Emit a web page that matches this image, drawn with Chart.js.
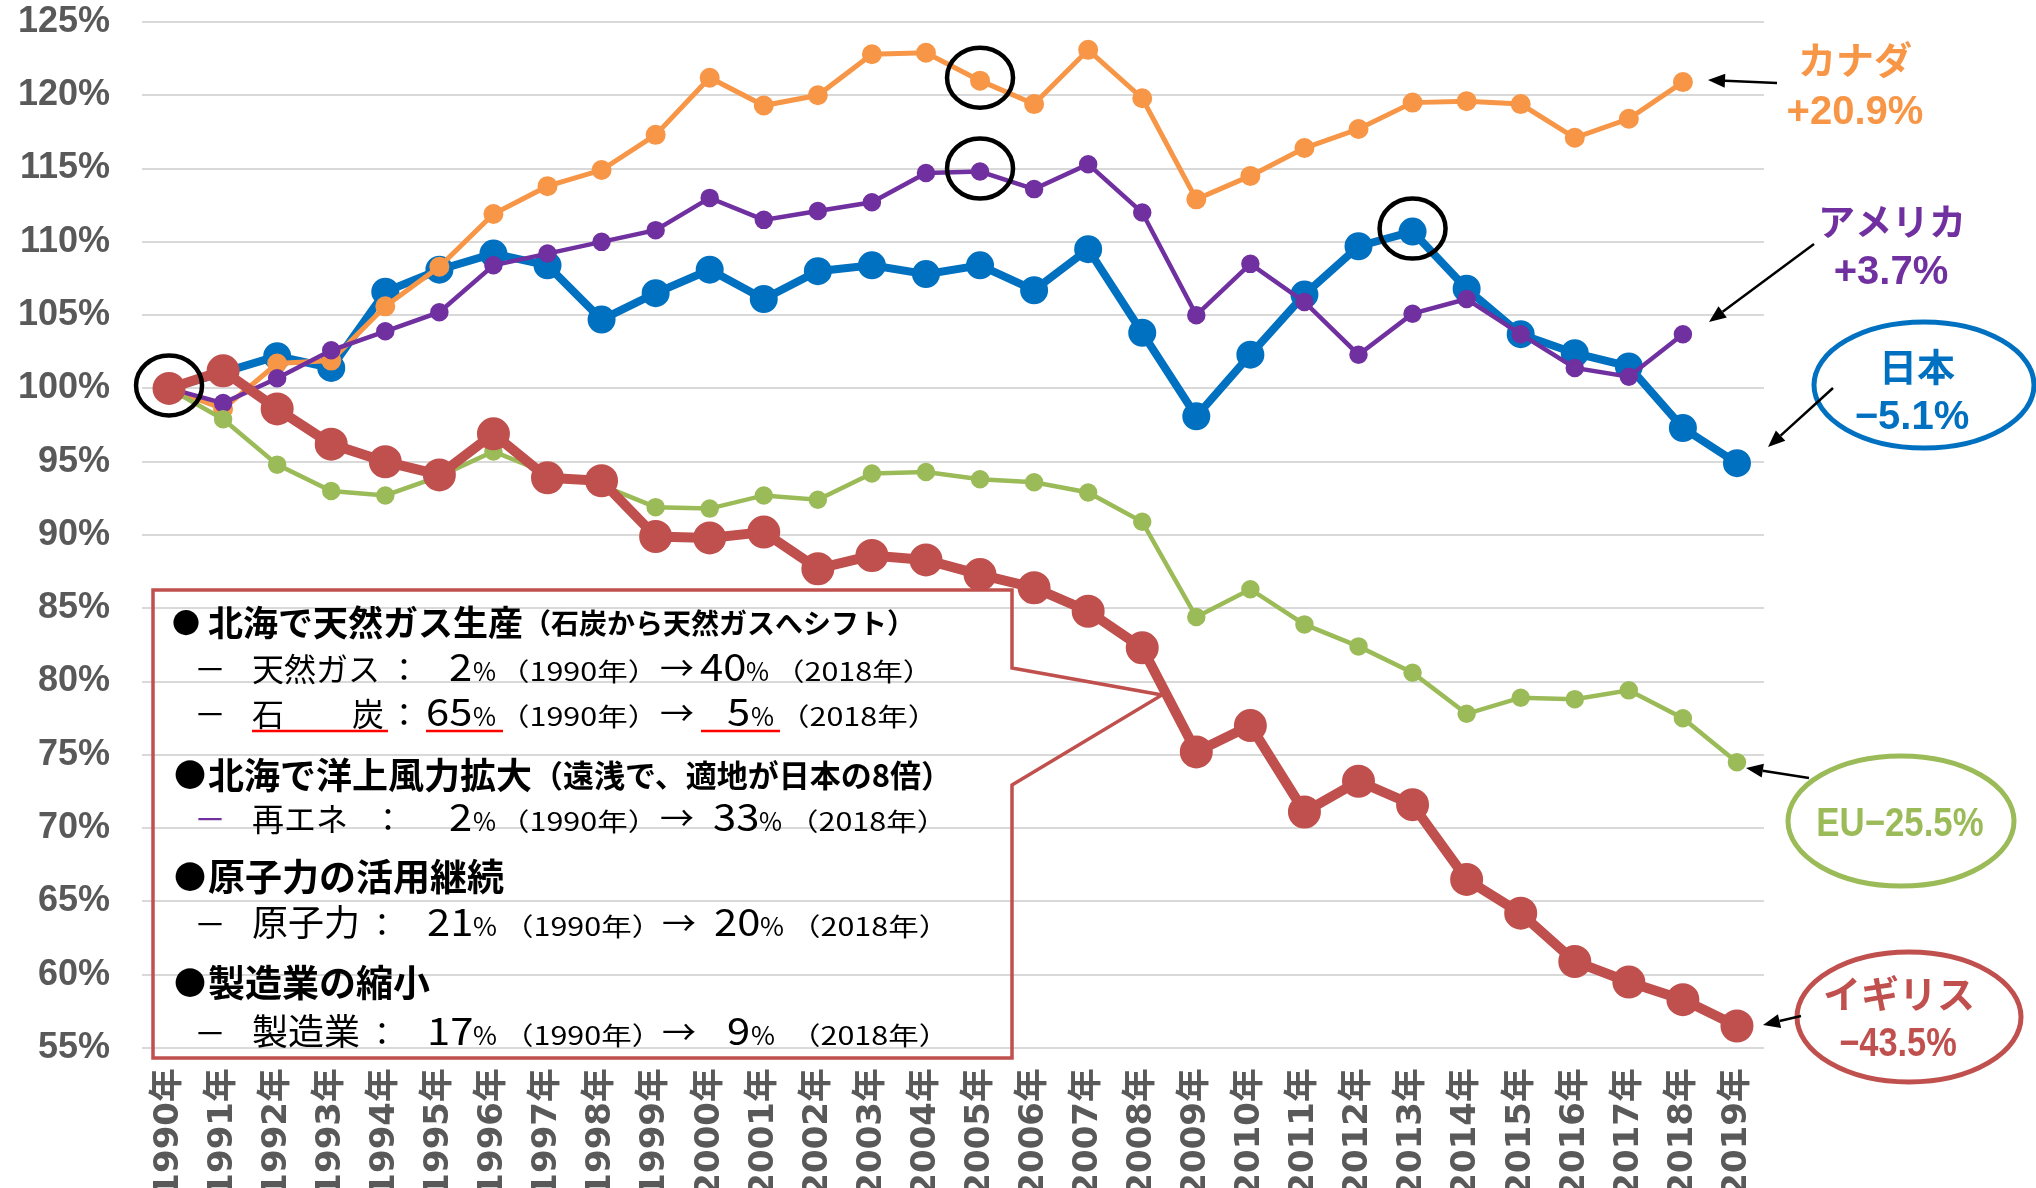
<!DOCTYPE html>
<html>
<head>
<meta charset="utf-8">
<script src="https://cdn.jsdelivr.net/npm/chart.js@4.4.1/dist/chart.umd.min.js"></script>
<style>
  html, body { margin: 0; padding: 0; background: #fff; }
  canvas { display: block; }
</style>
</head>
<body>
<canvas id="co2-Chart" width="2036" height="1188"></canvas>
<script>
// 1990年比の排出量推移 (%)
const years = ['1990年','1991年','1992年','1993年','1994年','1995年','1996年','1997年','1998年','1999年',
               '2000年','2001年','2002年','2003年','2004年','2005年','2006年','2007年','2008年','2009年',
               '2010年','2011年','2012年','2013年','2014年','2015年','2016年','2017年','2018年','2019年'];

const japan  = [100, 101.1, 102.2, 101.4, 106.6, 108.1, 109.2, 108.4, 104.7, 106.5,
                108.1, 106.1, 108.0, 108.4, 107.8, 108.4, 106.7, 109.5, 103.8, 98.1,
                102.3, 106.4, 109.7, 110.7, 106.8, 103.7, 102.4, 101.5, 97.3, 94.9];
const canada = [100, 98.6, 101.7, 101.9, 105.6, 108.3, 111.9, 113.8, 114.9, 117.3,
                121.2, 119.3, 120.0, 122.8, 122.9, 121.0, 119.4, 123.1, 119.8, 112.9,
                114.5, 116.4, 117.7, 119.5, 119.6, 119.4, 117.1, 118.4, 120.9, null];
const usa    = [100, 99.0, 100.7, 102.6, 103.9, 105.2, 108.4, 109.2, 110.0, 110.8,
                113.0, 111.5, 112.1, 112.7, 114.7, 114.8, 113.6, 115.3, 112.0, 105.0,
                108.5, 105.9, 102.3, 105.1, 106.1, 103.7, 101.4, 100.8, 103.7, null];
const eu     = [100, 97.9, 94.8, 93.0, 92.7, 94.0, 95.7, 94.2, 93.4, 91.9,
                91.8, 92.7, 92.4, 94.2, 94.3, 93.8, 93.6, 92.9, 90.9, 84.4,
                86.3, 83.9, 82.4, 80.6, 77.8, 78.9, 78.8, 79.4, 77.5, 74.5];
const uk     = [100, 101.2, 98.6, 96.2, 95.0, 94.1, 96.9, 93.9, 93.7, 89.9,
                89.8, 90.2, 87.7, 88.6, 88.3, 87.3, 86.4, 84.8, 82.3, 75.2,
                77.0, 71.1, 73.2, 71.6, 66.5, 64.2, 60.9, 59.5, 58.3, 56.5];

const yTicks = [55, 60, 65, 70, 75, 80, 85, 90, 95, 100, 105, 110, 115, 120, 125];
const yTickLabels = ['55%','60%','65%','70%','75%','80%','85%','90%','95%','100%','105%','110%','115%','120%','125%'];

const JP = '"Noto Sans CJK JP", sans-serif';
const NUM = '"Liberation Sans", Arial, sans-serif';

// points circled in black: [dataset index, year index]
const circled = [[0, 0], [3, 15], [2, 15], [4, 23]];

// text inside the red callout box: [text, x, size, weight, sx, color]
const noteLines = [
  { y: 623, base: 'middle', segs: [
    ['●', 172, 28, 700], ['北海で天然ガス生産', 208, 35, 700], ['（石炭から天然ガスへシフト）', 523, 28, 700]] },
  { y: 681, segs: [
    ['－', 194, 32, 400], ['天然ガス', 252, 32, 400], ['：', 388, 32, 400], ['2', 449, 38, 400, 1.1],
    ['%', 473, 25, 400], ['（1990年）', 499, 25, 400, 1.22], ['→', 660, 34, 400], ['40', 700, 38, 400, 1.1],
    ['%', 746, 25, 400], ['（2018年）', 774, 25, 400, 1.22]] },
  { y: 726, segs: [
    ['－', 194, 32, 400], ['石', 252, 32, 400], ['炭', 352, 32, 400], ['：', 388, 32, 400], ['65', 426, 38, 400, 1.1],
    ['%', 473, 25, 400], ['（1990年）', 499, 25, 400, 1.22], ['→', 660, 34, 400], ['5', 727, 38, 400, 1.1],
    ['%', 751, 25, 400], ['（2018年）', 779, 25, 400, 1.22]] },
  { y: 775, base: 'middle', segs: [
    ['●', 174, 32, 700], ['北海で洋上風力拡大', 208, 36, 700], ['（遠浅で、適地が日本の8倍）', 532, 31, 700]] },
  { y: 831, segs: [
    ['－', 194, 32, 400, 1, '#7030A0'], ['再エネ', 252, 32, 400], ['：', 372, 32, 400], ['2', 449, 38, 400, 1.1],
    ['%', 473, 25, 400], ['（1990年）', 499, 25, 400, 1.22], ['→', 660, 34, 400], ['33', 713, 38, 400, 1.1],
    ['%', 759, 25, 400], ['（2018年）', 788, 25, 400, 1.22]] },
  { y: 877, base: 'middle', segs: [
    ['●', 174, 32, 700], ['原子力の活用継続', 208, 37, 700]] },
  { y: 936, segs: [
    ['－', 194, 32, 400], ['原子力', 252, 36, 400], ['：', 366, 32, 400], ['21', 427, 38, 400, 1.1],
    ['%', 473, 26, 400], ['（1990年）', 503, 25, 400, 1.22], ['→', 662, 34, 400], ['20', 714, 38, 400, 1.1],
    ['%', 760, 26, 400], ['（2018年）', 790, 25, 400, 1.22]] },
  { y: 983, base: 'middle', segs: [
    ['●', 174, 32, 700], ['製造業の縮小', 208, 37, 700]] },
  { y: 1045, segs: [
    ['－', 194, 32, 400], ['製造業', 252, 36, 400], ['：', 366, 32, 400], ['17', 427, 38, 400, 1.1],
    ['%', 473, 26, 400], ['（1990年）', 503, 25, 400, 1.22], ['→', 662, 34, 400], ['9', 727, 38, 400, 1.1],
    ['%', 751, 26, 400], ['（2018年）', 790, 25, 400, 1.22]] }
];
const noteUnderlines = [[252, 388, 731], [426, 503, 731], [701, 780, 731]];

// labels at the right: [text, cx, cy, size, family, color, sx]
const sideLabels = [
  ['カナダ', 1855, 60, 38, JP, '#F79646'], ['+20.9%', 1855, 113, 40, NUM, '#F79646'],
  ['アメリカ', 1892, 222, 37, JP, '#7030A0'], ['+3.7%', 1891, 273, 40, NUM, '#7030A0'],
  ['日本', 1917, 367, 38, JP, '#0070C0'], ['−5.1%', 1912, 418, 40, NUM, '#0070C0'],
  ['EU−25.5%', 1900, 825, 40, NUM, '#9BBB59', 0.87],
  ['イギリス', 1899, 994, 38, JP, '#C0504D'], ['−43.5%', 1898, 1045, 40, NUM, '#C0504D', 0.86]
];
const sideRings = [[1924, 385, 110, 63, '#0070C0'], [1901, 821, 113, 65, '#9BBB59'], [1909, 1017, 112, 65, '#C0504D']];
const sideArrows = [[1777, 83, 1708, 80], [1814, 244, 1709, 322], [1833, 388, 1768, 447],
                    [1809, 778, 1746, 768], [1801, 1016, 1763, 1025]];

function put(ctx, txt, x, y, size, weight, family, color, sx, align, base) {
  ctx.save();
  ctx.font = weight + ' ' + size + 'px ' + family;
  ctx.fillStyle = color;
  ctx.textAlign = align || 'left';
  ctx.textBaseline = base || 'alphabetic';
  ctx.translate(x, y);
  ctx.scale(sx || 1, 1);
  ctx.fillText(txt, 0, 0);
  ctx.restore();
}

function arrow(ctx, x0, y0, x1, y1) {
  const a = Math.atan2(y1 - y0, x1 - x0);
  const len = 17, half = 7;
  const bx = x1 - len * Math.cos(a), by = y1 - len * Math.sin(a);
  ctx.beginPath();
  ctx.moveTo(x0, y0);
  ctx.lineTo(bx, by);
  ctx.stroke();
  ctx.beginPath();
  ctx.moveTo(x1, y1);
  ctx.lineTo(bx + half * Math.sin(a), by - half * Math.cos(a));
  ctx.lineTo(bx - half * Math.sin(a), by + half * Math.cos(a));
  ctx.closePath();
  ctx.fill();
}

// red callout frame, under the lines
const noteBox = {
  id: 'noteBox',
  beforeDatasetsDraw(chart) {
    const ctx = chart.ctx;
    ctx.save();
    ctx.strokeStyle = '#C0504D';
    ctx.lineWidth = 3.5;
    ctx.beginPath();
    ctx.moveTo(153, 590);
    ctx.lineTo(1012, 590);
    ctx.lineTo(1012, 668);
    ctx.lineTo(1162, 695);
    ctx.lineTo(1012, 785);
    ctx.lineTo(1012, 1058);
    ctx.lineTo(153, 1058);
    ctx.closePath();
    ctx.stroke();
    ctx.restore();
  }
};

const annotations = {
  id: 'annotations',
  afterDraw(chart) {
    const ctx = chart.ctx;
    ctx.save();

    // box text
    noteLines.forEach(line => {
      line.segs.forEach(s => {
        put(ctx, s[0], s[1], line.y, s[2], s[3], JP, s[5] || '#000', s[4], 'left', line.base);
      });
    });
    ctx.strokeStyle = '#FF0000';
    ctx.lineWidth = 2.5;
    noteUnderlines.forEach(u => {
      ctx.beginPath();
      ctx.moveTo(u[0], u[2]);
      ctx.lineTo(u[1], u[2]);
      ctx.stroke();
    });

    // black rings around key points
    ctx.strokeStyle = '#000';
    ctx.lineWidth = 4.5;
    circled.forEach(c => {
      const pt = chart.getDatasetMeta(c[0]).data[c[1]];
      ctx.beginPath();
      ctx.ellipse(pt.x, pt.y - 3, 33, 30, 0, 0, Math.PI * 2);
      ctx.stroke();
    });

    // side rings, arrows, labels
    ctx.lineWidth = 5;
    sideRings.forEach(r => {
      ctx.strokeStyle = r[4];
      ctx.beginPath();
      ctx.ellipse(r[0], r[1], r[2], r[3], 0, 0, Math.PI * 2);
      ctx.stroke();
    });
    ctx.strokeStyle = '#000';
    ctx.fillStyle = '#000';
    ctx.lineWidth = 2.5;
    sideArrows.forEach(a => arrow(ctx, a[0], a[1], a[2], a[3]));
    sideLabels.forEach(l => {
      put(ctx, l[0], l[1], l[2], l[3], 700, l[4], l[5], l[6], 'center', 'middle');
    });
    ctx.restore();
  }
};

const ctx = document.getElementById('co2-Chart').getContext('2d');
const myChart = new Chart(ctx, {
  type: 'line',
  data: {
    labels: years,
    datasets: [
      { label: 'イギリス', data: uk, borderColor: '#C0504D', backgroundColor: '#C0504D',
        borderWidth: 10, pointRadius: 11.5, order: 0 },
      { label: 'EU', data: eu, borderColor: '#9BBB59', backgroundColor: '#9BBB59',
        borderWidth: 4.5, pointRadius: 7, order: 1 },
      { label: 'アメリカ', data: usa, borderColor: '#7030A0', backgroundColor: '#7030A0',
        borderWidth: 4.5, pointRadius: 7, order: 2 },
      { label: 'カナダ', data: canada, borderColor: '#F79646', backgroundColor: '#F79646',
        borderWidth: 5, pointRadius: 7.5, order: 3 },
      { label: '日本', data: japan, borderColor: '#0070C0', backgroundColor: '#0070C0',
        borderWidth: 8, pointRadius: 10, order: 4 }
    ]
  },
  options: {
    responsive: false,
    animation: false,
    devicePixelRatio: 1,
    layout: { padding: { top: 22, right: 272, left: 0, bottom: 0 } },
    elements: {
      line: { tension: 0 },
      point: { borderWidth: 0, hoverRadius: 11 }
    },
    plugins: {
      legend: { display: false },
      tooltip: { enabled: false }
    },
    scales: {
      x: {
        offset: true,
        grid: { display: false, drawTicks: false },
        border: { display: false },
        ticks: {
          autoSkip: false, maxRotation: 90, minRotation: 90, padding: 20,
          color: '#595959',
          font: { family: '"DejaVu Sans", "Noto Sans CJK JP", sans-serif', size: 34, weight: 'bold' }
        },
        afterFit(s) { s.height = 140; s.paddingLeft = 0; s.paddingRight = 0; }
      },
      y: {
        min: 55, max: 125,
        afterBuildTicks(s) { s.ticks = yTicks.map(v => ({ value: v })); },
        grid: { color: '#D9D9D9', lineWidth: 2, drawTicks: false },
        border: { display: false },
        ticks: {
          padding: 32, color: '#595959',
          font: { family: NUM, size: 36, weight: 'bold' },
          callback: v => yTickLabels[yTicks.indexOf(v)]
        },
        afterFit(s) { s.width = 142; s.paddingTop = 0; s.paddingBottom = 0; }
      }
    }
  },
  plugins: [noteBox, annotations]
});
</script>
</body>
</html>
